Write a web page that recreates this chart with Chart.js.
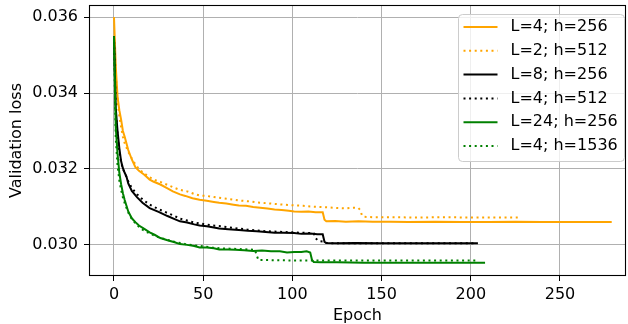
<!DOCTYPE html>
<html><head><meta charset="utf-8">
<script src="https://cdn.jsdelivr.net/npm/chart.js@4"></script>
<style>html,body{margin:0;padding:0;background:#fff}canvas{display:block}</style>
</head><body>
<canvas id="c" width="628" height="324" style="width:628px;height:324px"></canvas>
<script>
// ---- data ----
const seriesLabels = ['L=4; h=256','L=2; h=512','L=8; h=256','L=4; h=512','L=24; h=256','L=4; h=1536'];
const xTicks = [0,50,100,150,200,250];
const yTicks = [0.030,0.032,0.034,0.036];

const epochsA = [0,1,2,3,4,5,6,8,10,12,14,17,20,22,26,30,33,37,40,44,48,52,56,59,63,67,70,74,78,82,86,90,94,98,101,105,109,113,117,118,119,124,130,137,145,155,165,180,195,210,225,240,255,268,279];
const lossA = [0.0360,0.0347,0.0339,0.03355,0.0333,0.0330,0.03285,0.03250,0.03225,0.03205,0.03195,0.03185,0.03172,0.03167,0.03159,0.03149,0.03141,0.03133,0.03129,0.03123,0.03119,0.03116,0.03113,0.03111,0.03109,0.03106,0.03104,0.03103,0.03100,0.03098,0.03096,0.03093,0.03092,0.03090,0.03088,0.03087,0.03088,0.03086,0.03086,0.03066,0.03062,0.03063,0.03061,0.03062,0.03061,0.03061,0.03060,0.03061,0.03060,0.03060,0.03061,0.03060,0.03060,0.03060,0.03060];

const epochsB = [0,1,2,3,4,5,6,8,10,12,14,17,20,23,26,30,34,37,41,45,48,52,56,59,64,70,75,80,85,90,95,101,106,110,115,120,125,130,134,137,138,139,140,145,155,170,185,200,215,228];
const lossB = [0.0355,0.0345,0.0338,0.0334,0.0331,0.03285,0.03268,0.03245,0.03228,0.03212,0.03200,0.03188,0.03178,0.03171,0.03166,0.03158,0.03150,0.03145,0.03141,0.03134,0.03130,0.03129,0.03126,0.03124,0.03121,0.03117,0.03115,0.03112,0.03110,0.03108,0.03106,0.03104,0.03103,0.03101,0.03100,0.03099,0.03097,0.03096,0.03098,0.03097,0.03092,0.03078,0.03074,0.03073,0.03073,0.03072,0.03073,0.03072,0.03072,0.03072];

const epochsC = [0,1,2,3,4,5,6,7,8,10,13,16,20,25,30,34,37,41,45,48,52,56,59,64,70,75,80,85,90,95,101,105,110,114,117,118,119,125,135,150,165,180,195,204];
const lossC = [0.0355,0.0336,0.0330,0.03255,0.0322,0.03202,0.03190,0.03180,0.03162,0.03142,0.03125,0.03111,0.03097,0.03087,0.03076,0.03068,0.03062,0.03059,0.03054,0.03051,0.03049,0.03046,0.03043,0.03041,0.03039,0.03037,0.03036,0.03034,0.03032,0.03032,0.03031,0.03029,0.03030,0.03028,0.03028,0.03008,0.03005,0.03004,0.03005,0.03004,0.03004,0.03004,0.03004,0.03004];

const epochsD = [0,1,2,3,4,5,6,8,10,13,16,20,25,30,34,37,41,45,50,55,60,65,70,75,80,85,90,95,100,105,110,112,113,115,117,119,125,140,160,180,203];
const lossD = [0.0355,0.0335,0.0329,0.03245,0.03218,0.03200,0.03190,0.03168,0.03150,0.03133,0.03120,0.03106,0.03094,0.03084,0.03076,0.03069,0.03064,0.03059,0.03055,0.03051,0.03049,0.03046,0.03043,0.03040,0.03038,0.03036,0.03035,0.03034,0.03033,0.03032,0.03031,0.03030,0.03017,0.03010,0.03009,0.03005,0.03004,0.03004,0.03004,0.03004,0.03004];

const epochsE = [0,1,2,3,4,5,6,8,10,12,14,17,20,23,26,30,34,37,41,45,48,52,56,59,64,68,73,78,83,88,93,97,101,105,108,110,111,112,116,125,140,160,180,195,208];
const lossE = [0.03550,0.0331,0.0324,0.0319,0.03160,0.03136,0.03118,0.03088,0.03070,0.03060,0.03051,0.03042,0.03033,0.03026,0.03018,0.03012,0.03007,0.03002,0.03000,0.02997,0.02993,0.02993,0.02991,0.02988,0.02988,0.02987,0.02986,0.02984,0.02985,0.02983,0.02983,0.02980,0.02981,0.02981,0.02983,0.02980,0.02960,0.02955,0.02954,0.02954,0.02953,0.02953,0.02953,0.02953,0.02953];

const epochsF = [0,1,2,3,4,5,6,8,10,13,16,20,25,30,35,40,45,50,55,60,65,70,75,79,80,81,85,100,120,140,160,180,203];
const lossF = [0.0354,0.0328,0.0321,0.0317,0.03145,0.03125,0.03110,0.03085,0.03068,0.03052,0.03040,0.03030,0.03020,0.03013,0.03007,0.03002,0.02999,0.02996,0.02993,0.02991,0.02990,0.02989,0.02988,0.02987,0.02972,0.02960,0.02960,0.02959,0.02959,0.02959,0.02959,0.02959,0.02959];

// ---- chart ----
const allEpochs = [epochsA, epochsB, epochsC, epochsD, epochsE, epochsF];
const allLoss = [lossA, lossB, lossC, lossD, lossE, lossF];
const colors = ['#ffa500','#ffa500','#000000','#000000','#008000','#008000'];
const isDotted = [false,true,false,true,false,true];

Chart.defaults.font.family = '"DejaVu Sans", sans-serif';
Chart.defaults.font.size = 16;
Chart.defaults.color = '#000';

const datasets = seriesLabels.map((lab, i) => ({
  label: lab,
  data: allEpochs[i].map((e, j) => ({x: e, y: allLoss[i][j]})),
  borderColor: colors[i],
  backgroundColor: colors[i],
  borderWidth: 2,
  borderDash: isDotted[i] ? [2, 3.6] : [],
  borderCapStyle: 'butt',
  pointRadius: 0,
  pointHoverRadius: 0,
  tension: 0,
  fill: false,
  order: 10 - i
}));

const framePlugin = {
  id: 'frame',
  afterDatasetsDraw(chart) {
    const {ctx, chartArea: a} = chart;
    ctx.save();
    ctx.strokeStyle = '#000';
    ctx.lineWidth = 1.1;
    ctx.strokeRect(Math.round(a.left) + 0.5, Math.round(a.top) + 0.5, Math.round(a.right - a.left) - 1, Math.round(a.bottom - a.top) - 1);
    ctx.restore();
  }
};

const legendPlugin = {
  id: 'boxLegend',
  afterDraw(chart) {
    const {ctx, chartArea: a} = chart;
    const w = 166, h = 147;
    const right = a.right - 1.5, top = a.top + 9.5, left = right - w;
    const r = 4;
    ctx.save();
    ctx.beginPath();
    ctx.moveTo(left + r, top);
    ctx.lineTo(right - r, top);
    ctx.quadraticCurveTo(right, top, right, top + r);
    ctx.lineTo(right, top + h - r);
    ctx.quadraticCurveTo(right, top + h, right - r, top + h);
    ctx.lineTo(left + r, top + h);
    ctx.quadraticCurveTo(left, top + h, left, top + h - r);
    ctx.lineTo(left, top + r);
    ctx.quadraticCurveTo(left, top, left + r, top);
    ctx.closePath();
    ctx.fillStyle = 'rgba(255,255,255,0.8)';
    ctx.fill();
    ctx.strokeStyle = '#cccccc';
    ctx.lineWidth = 1;
    ctx.stroke();
    chart.data.datasets.forEach((ds, i) => {
      const y = top + 12.5 + i * 23.8;
      ctx.beginPath();
      ctx.setLineDash(ds.borderDash || []);
      ctx.lineCap = 'butt';
      ctx.strokeStyle = ds.borderColor;
      ctx.lineWidth = 2;
      ctx.moveTo(left + 5, y);
      ctx.lineTo(left + 39, y);
      ctx.stroke();
      ctx.setLineDash([]);
      ctx.fillStyle = '#000';
      ctx.font = '16px "DejaVu Sans"';
      ctx.textBaseline = 'middle';
      ctx.textAlign = 'left';
      ctx.fillText(ds.label, left + 52, y);
    });
    ctx.restore();
  }
};

new Chart(document.getElementById('c'), {
  type: 'line',
  data: {datasets},
  options: {
    responsive: false,
    animation: false,
    devicePixelRatio: 1,
    layout: {padding: {top: 5, right: 2, left: 0, bottom: 0}},
    plugins: {legend: {display: false}, tooltip: {enabled: false}},
    events: [],
    scales: {
      x: {
        type: 'linear',
        min: -14,
        max: 287,
        afterBuildTicks: s => { s.ticks = xTicks.map(v => ({value: v})); },
        afterFit: s => { s.height = 48; s.paddingLeft = 0; s.paddingRight = 0; },
        grid: {color: '#b0b0b0', lineWidth: 1, tickColor: '#000', tickLength: 5, tickWidth: 1},
        border: {display: false},
        ticks: {padding: 4, maxRotation: 0, autoSkip: false, callback: v => String(v)},
        title: {display: true, text: 'Epoch', padding: {top: 0, bottom: 0}, font: {size: 16, lineHeight: 1.0}}
      },
      y: {
        type: 'linear',
        min: 0.02918,
        max: 0.03632,
        afterBuildTicks: s => { s.ticks = yTicks.map(v => ({value: v})); },
        afterFit: s => { s.width = 89; s.paddingTop = 0; s.paddingBottom = 0; },
        grid: {color: '#b0b0b0', lineWidth: 1, tickColor: '#000', tickLength: 5, tickWidth: 1},
        border: {display: false},
        ticks: {padding: 6, autoSkip: false, callback: v => Number(v).toFixed(3)},
        title: {display: true, text: 'Validation loss', padding: {top: 7.5, bottom: 0}, font: {size: 16, lineHeight: 1.2}}
      }
    }
  },
  plugins: [framePlugin, legendPlugin]
});
</script>
</body></html>
